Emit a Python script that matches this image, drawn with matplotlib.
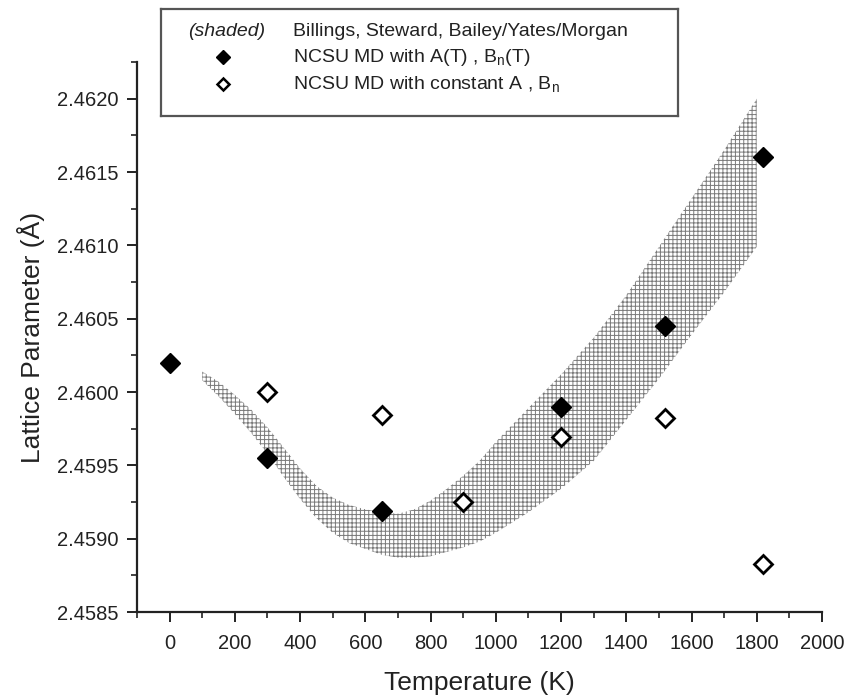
import numpy as np
import matplotlib
matplotlib.use('Agg')
import matplotlib.pyplot as plt
from matplotlib.ticker import MultipleLocator, FormatStrFormatter

# Данные: полоса литературных значений (Billings, Steward, Bailey/Yates/Morgan)
band_T = [100, 150, 200, 250, 300, 350, 400, 450, 500, 550, 600, 650, 700,
          750, 800, 850, 900, 950, 1000, 1100, 1200, 1300, 1400, 1500, 1600,
          1700, 1800]
band_upper = [2.46014, 2.46007, 2.45998, 2.45988, 2.45976, 2.45962, 2.45948,
              2.45936, 2.45928, 2.45923, 2.45920, 2.45918, 2.45917, 2.45920,
              2.45926, 2.45934, 2.45943, 2.45953, 2.45966, 2.45989, 2.46012,
              2.46037, 2.46066, 2.46099, 2.46132, 2.46165, 2.46200]
band_lower = [2.46008, 2.45997, 2.45985, 2.45972, 2.45958, 2.45942, 2.45927,
              2.45914, 2.45904, 2.45897, 2.45893, 2.45889, 2.45887, 2.45887,
              2.45888, 2.45891, 2.45894, 2.45898, 2.45904, 2.45918, 2.45934,
              2.45953, 2.45981, 2.46009, 2.46039, 2.46068, 2.46099]

# NCSU MD с A(T), Bn(T)
md_T_T = [0, 300, 650, 1200, 1520, 1820]
md_T_a = [2.46020, 2.45955, 2.45919, 2.45990, 2.46045, 2.46160]

# NCSU MD с постоянными A, Bn
md_c_T = [300, 650, 900, 1200, 1520, 1820]
md_c_a = [2.46000, 2.45984, 2.45925, 2.45969, 2.45982, 2.45883]

legend_labels = ['Billings, Steward, Bailey/Yates/Morgan',
                 r'NCSU MD with A(T) , B$_\mathrm{n}$(T)',
                 r'NCSU MD with constant A , B$_\mathrm{n}$']

plt.rcParams['font.family'] = ['Liberation Sans', 'DejaVu Sans']
plt.rcParams['mathtext.fontset'] = 'custom'
plt.rcParams['mathtext.rm'] = 'Liberation Sans'
plt.rcParams['mathtext.it'] = 'Liberation Sans:italic'
plt.rcParams['hatch.linewidth'] = 0.7

fig = plt.figure(figsize=(8.48, 7.0), dpi=100)
ax = fig.add_axes([137 / 848, 1 - 612 / 700, 685 / 848, 550 / 700])

# Заштрихованная полоса
ax.fill_between(band_T, band_lower, band_upper, facecolor='white',
                edgecolor='#7a7a7a', hatch='++++', linewidth=0)

# Точки
ax.plot(md_T_T, md_T_a, 'D', color='black', markersize=10, linestyle='none')
ax.plot(md_c_T, md_c_a, 'D', markerfacecolor='white', markeredgecolor='black',
        markersize=9, markeredgewidth=2, linestyle='none')

ax.set_xlim(-100, 2000)
ax.set_ylim(2.4585, 2.46225)
ax.xaxis.set_major_locator(MultipleLocator(200))
ax.xaxis.set_minor_locator(MultipleLocator(100))
ax.yaxis.set_major_locator(MultipleLocator(0.0005))
ax.yaxis.set_minor_locator(MultipleLocator(0.00025))
ax.yaxis.set_major_formatter(FormatStrFormatter('%.4f'))

for s in ['top', 'right']:
    ax.spines[s].set_visible(False)
for s in ['left', 'bottom']:
    ax.spines[s].set_linewidth(1.6)
    ax.spines[s].set_color('#222222')
ax.tick_params(which='major', direction='out', length=7, width=1.4,
               labelsize=14.5, colors='#222222')
ax.tick_params(which='minor', direction='out', length=4, width=1.2,
               colors='#222222')
ax.tick_params(axis='x', which='major', pad=9)
ax.tick_params(axis='y', which='major', pad=6)

ax.set_xlabel('Temperature (K)', fontsize=19, color='#222222', labelpad=13)
ax.set_ylabel('Lattice Parameter (Å)', fontsize=19, color='#222222', labelpad=9)

# Легенда в рамке
lax = fig.add_axes([161 / 848, 1 - 116 / 700, 517 / 848, 107 / 700])
lax.set_xlim(0, 517)
lax.set_ylim(107, 0)
lax.set_xticks([])
lax.set_yticks([])
for s in lax.spines.values():
    s.set_color('#555555')
    s.set_linewidth(1.6)
lax.patch.set_alpha(0)

rows_y = [23, 48, 75]
lax.text(66, rows_y[0], '(shaded)', style='italic', fontsize=14,
         ha='center', va='center', color='#222222')
lax.plot([62], [rows_y[1]], 'D', color='black', markersize=7)
lax.plot([62], [rows_y[2]], 'D', markerfacecolor='white',
         markeredgecolor='black', markersize=6.5, markeredgewidth=1.8)
for y, lab in zip(rows_y, legend_labels):
    lax.text(132, y, lab, fontsize=14, ha='left', va='center', color='#222222')

fig.savefig('out.png', dpi=100)
